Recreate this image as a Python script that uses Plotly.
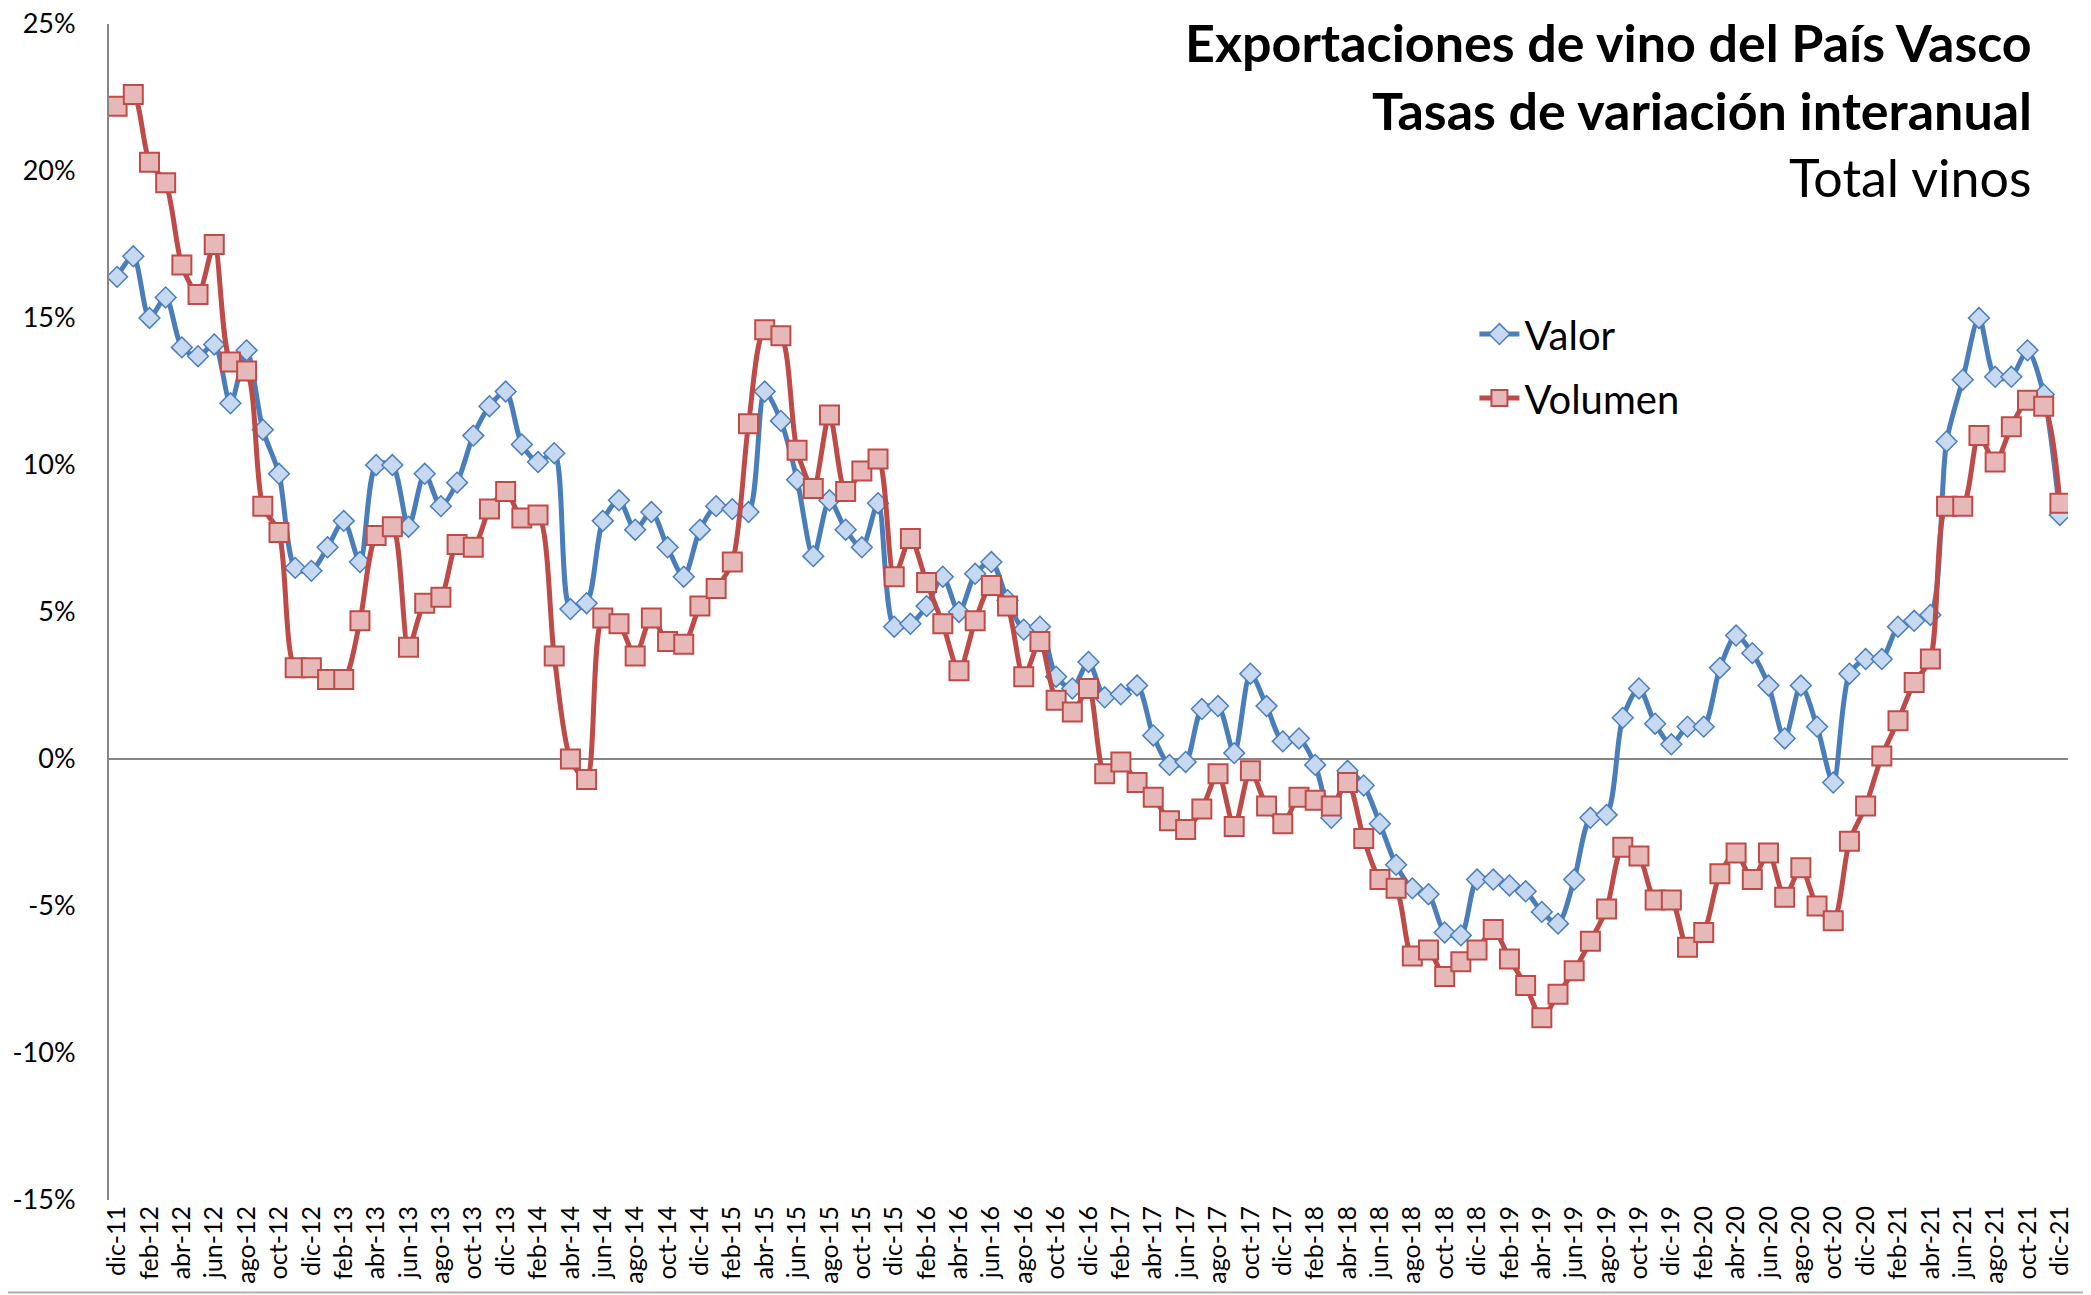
import plotly.graph_objects as go

MESES = ["ene", "feb", "mar", "abr", "may", "jun", "jul", "ago", "sep", "oct", "nov", "dic"]
meses = []
for k in range(121):
    m = (11 + k) % 12
    y = 11 + (11 + k) // 12
    meses.append(f"{MESES[m]}-{y:02d}")

valor = [16.4, 17.1, 15.0, 15.7, 14.0, 13.7, 14.1, 12.1, 13.9, 11.2,
         9.7, 6.5, 6.4, 7.2, 8.1, 6.7, 10.0, 10.0, 7.9, 9.7,
         8.6, 9.4, 11.0, 12.0, 12.5, 10.7, 10.1, 10.4, 5.1, 5.3,
         8.1, 8.8, 7.8, 8.4, 7.2, 6.2, 7.8, 8.6, 8.5, 8.4,
         12.5, 11.5, 9.5, 6.9, 8.8, 7.8, 7.2, 8.7, 4.5, 4.6,
         5.2, 6.2, 5.0, 6.3, 6.7, 5.4, 4.4, 4.5, 2.8, 2.4,
         3.3, 2.1, 2.2, 2.5, 0.8, -0.2, -0.1, 1.7, 1.8, 0.2,
         2.9, 1.8, 0.6, 0.7, -0.2, -2.0, -0.4, -0.9, -2.2, -3.6,
         -4.4, -4.6, -5.9, -6.0, -4.1, -4.1, -4.3, -4.5, -5.2, -5.6,
         -4.1, -2.0, -1.9, 1.4, 2.4, 1.2, 0.5, 1.1, 1.1, 3.1,
         4.2, 3.6, 2.5, 0.7, 2.5, 1.1, -0.8, 2.9, 3.4, 3.4,
         4.5, 4.7, 4.9, 10.8, 12.9, 15.0, 13.0, 13.0, 13.9, 12.4, 8.3]

volumen = [22.2, 22.6, 20.3, 19.6, 16.8, 15.8, 17.5, 13.5, 13.2, 8.6,
           7.7, 3.1, 3.1, 2.7, 2.7, 4.7, 7.6, 7.9, 3.8, 5.3,
           5.5, 7.3, 7.2, 8.5, 9.1, 8.2, 8.3, 3.5, 0.0, -0.7,
           4.8, 4.6, 3.5, 4.8, 4.0, 3.9, 5.2, 5.8, 6.7, 11.4,
           14.6, 14.4, 10.5, 9.2, 11.7, 9.1, 9.8, 10.2, 6.2, 7.5,
           6.0, 4.6, 3.0, 4.7, 5.9, 5.2, 2.8, 4.0, 2.0, 1.6,
           2.4, -0.5, -0.1, -0.8, -1.3, -2.1, -2.4, -1.7, -0.5, -2.3,
           -0.4, -1.6, -2.2, -1.3, -1.4, -1.6, -0.8, -2.7, -4.1, -4.4,
           -6.7, -6.5, -7.4, -6.9, -6.5, -5.8, -6.8, -7.7, -8.8, -8.0,
           -7.2, -6.2, -5.1, -3.0, -3.3, -4.8, -4.8, -6.4, -5.9, -3.9,
           -3.2, -4.1, -3.2, -4.7, -3.7, -5.0, -5.5, -2.8, -1.6, 0.1,
           1.3, 2.6, 3.4, 8.6, 8.6, 11.0, 10.1, 11.3, 12.2, 12.0, 8.7]

y_ticks = [-15, -10, -5, 0, 5, 10, 15, 20, 25]
y_ticktext = ["-15%", "-10%", "-5%", "0%", "5%", "10%", "15%", "20%", "25%"]
x_ticks = meses[::2]

FONT = "Lato, 'Open Sans', sans-serif"

fig = go.Figure()
fig.add_trace(go.Scatter(
    x=meses, y=valor, name="Valor", mode="lines+markers", legendgroup="a",
    line=dict(color="#4A7EBB", width=5, shape="spline", smoothing=0.8),
    marker=dict(symbol="diamond", size=16, color="#C6D9F1",
                line=dict(color="#4A7EBB", width=1.5)),
))
fig.add_trace(go.Scatter(
    x=meses, y=volumen, name="Volumen", mode="lines+markers", legendgroup="b",
    line=dict(color="#BE4B48", width=5, shape="spline", smoothing=0.8),
    marker=dict(symbol="square", size=19, color="#E6B9B8",
                line=dict(color="#BE4B48", width=2)),
))

titles = [
    ("<b>Exportaciones de vino del País Vasco</b>", 0.9845),
    ("<b>Tasas de variación interanual</b>", 0.9268),
    ("Total vinos", 0.8695),
]
for txt, yy in titles:
    fig.add_annotation(text=txt, xref="paper", yref="paper", x=0.9826, y=yy,
                       xanchor="right", yanchor="middle", showarrow=False,
                       font=dict(family=FONT, size=52, color="#000000"))

# page body has an 8px offset; figure sized so the plot area sits where the reference's does
fig.update_layout(
    width=2083, height=1287,
    margin=dict(l=101, r=23, t=16, b=95, autoexpand=False),
    paper_bgcolor="white", plot_bgcolor="white",
    font=dict(family=FONT, color="#000000"),
    showlegend=True,
    legend=dict(x=0.697, y=0.7640, xanchor="left", yanchor="top",
                font=dict(family=FONT, size=40, color="#000000"),
                bgcolor="rgba(0,0,0,0)", itemwidth=40,
                traceorder="grouped", tracegroupgap=9),
    xaxis=dict(type="category", range=[-0.5, 120.5], tickmode="array",
               tickvals=x_ticks, ticktext=x_ticks, tickangle=-90,
               tickfont=dict(family=FONT, size=25, color="#000000"),
               showgrid=False, showline=False, zeroline=False, ticks=""),
    yaxis=dict(range=[-15, 25], tickmode="array", tickvals=y_ticks,
               ticktext=y_ticktext, ticklabeloverflow="allow",
               tickfont=dict(family=FONT, size=27, color="#000000"),
               showgrid=False, showline=True, linecolor="#868686", linewidth=2,
               zeroline=True, zerolinecolor="#868686", zerolinewidth=1.5,
               ticks="", ticklabelstandoff=26),
    shapes=[
        dict(type="line", xref="paper", yref="paper", x0=1.0092, x1=1.0092,
             y0=-0.09, y1=1.02, line=dict(color="#B0B0B0", width=2)),
        dict(type="line", xref="paper", yref="paper", x0=-0.06, x1=1.0092,
             y0=-0.0786, y1=-0.0786, line=dict(color="#B0B0B0", width=2)),
    ],
)

fig.write_html("out.html")
